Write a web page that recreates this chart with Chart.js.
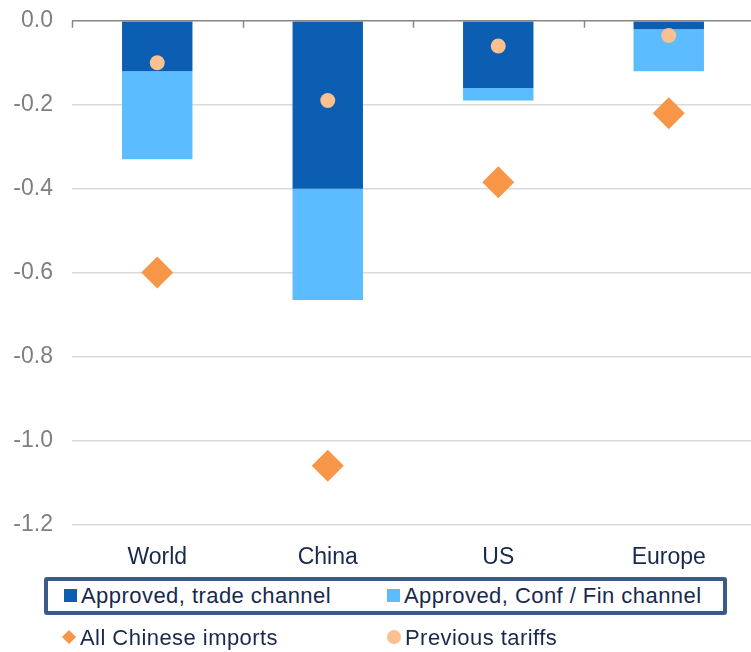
<!DOCTYPE html>
<html>
<head>
<meta charset="utf-8">
<script src="https://cdn.jsdelivr.net/npm/chart.js@4"></script>
<style>
  body { margin: 0; overflow: hidden; background: #fff; font-family: "Liberation Sans", Arial, sans-serif; }
  #wrap { position: absolute; left: 0; top: -12px; width: 770px; height: 602px; }
  .legend { position: absolute; color: #17294d; font-size: 22px; letter-spacing: 0.45px; }
  #row1 { left: 44px; top: 577px; width: 675px; height: 30px; border: 4px solid #3a5b89; border-radius: 3px; background: #fff; }
  #row2 { left: 44px; top: 623px; width: 683px; height: 30px; }
  .item { position: absolute; top: 2px; white-space: nowrap; }
  .sw { display: inline-block; vertical-align: middle; margin-right: 4px; }
</style>
</head>
<body>
<div id="wrap"><canvas id="tariffChart"></canvas></div>

<div class="legend" id="row1">
  <span class="item" style="left:16px"><span class="sw" style="width:13px;height:13px;background:#0b5eb1;margin-top:-4px"></span>Approved, trade channel</span>
  <span class="item" style="left:339px"><span class="sw" style="width:13px;height:13px;background:#5bbcff;margin-top:-4px"></span>Approved, Conf / Fin channel</span>
</div>
<div class="legend" id="row2">
  <span class="item" style="left:20px"><span class="sw" style="width:10px;height:10px;background:#f79646;transform:rotate(45deg);margin-top:-4px;margin-right:6px"></span>All Chinese imports</span>
  <span class="item" style="left:343px"><span class="sw" style="width:14px;height:14px;background:#fac090;border-radius:50%;margin-top:-4px"></span>Previous tariffs</span>
</div>

<script>
  // regions
  const regions = ['World', 'China', 'US', 'Europe'];
  // bar parts (stacked)
  const tradeChannel = [-0.12, -0.40, -0.16, -0.02];
  const confFinChannel = [-0.21, -0.265, -0.03, -0.10];
  // markers
  const allChineseImports = [-0.60, -1.06, -0.385, -0.22];
  const previousTariffs = [-0.10, -0.19, -0.06, -0.035];
  // y axis
  const yMin = -1.2;
  const yMax = 0;
  const yStep = 0.2;

  // little tick marks hanging off the zero line at category borders
  const zeroTicks = {
    id: 'zeroTicks',
    afterDatasetsDraw(chart) {
      const x = chart.scales.x;
      const y0 = chart.scales.y.getPixelForValue(0);
      const ctx = chart.ctx;
      const n = regions.length;
      const w = (x.right - x.left) / n;
      ctx.save();
      ctx.strokeStyle = '#868686';
      ctx.lineWidth = 1.5;
      ctx.beginPath();
      ctx.moveTo(x.left, y0);
      ctx.lineTo(x.right, y0);
      for (let i = 0; i <= n; i++) {
        const px = Math.round(x.left + i * w) + 0.5;
        ctx.moveTo(px, y0);
        ctx.lineTo(px, y0 + 7);
      }
      ctx.stroke();
      ctx.restore();
    }
  };

  const ctx1 = document.getElementById('tariffChart');
  const tariffChart = new Chart(ctx1, {
    type: 'bar',
    data: {
      labels: regions,
      datasets: [{
        label: 'Approved, trade channel',
        data: tradeChannel,
        backgroundColor: '#0b5eb1',
        stack: 'bars',
        order: 2,
        barPercentage: 0.413,
        categoryPercentage: 1
      },
      {
        label: 'Approved, Conf / Fin channel',
        data: confFinChannel,
        backgroundColor: '#5bbcff',
        stack: 'bars',
        order: 2,
        barPercentage: 0.413,
        categoryPercentage: 1
      },
      {
        type: 'line',
        label: 'All Chinese imports',
        data: allChineseImports,
        stack: 'diamonds',
        showLine: false,
        pointStyle: 'rectRot',
        pointRadius: 16,
        pointBorderWidth: 0,
        pointBackgroundColor: '#f79646',
        order: 0
      },
      {
        type: 'line',
        label: 'Previous tariffs',
        data: previousTariffs,
        stack: 'circles',
        showLine: false,
        pointStyle: 'circle',
        pointRadius: 7.5,
        pointBorderWidth: 0,
        pointBackgroundColor: '#fac090',
        order: 0
      }]
    },
    options: {
      responsive: true,
      maintainAspectRatio: false,
      animation: false,
      layout: {
        padding: { top: 0, right: 10, left: 0, bottom: 0 }
      },
      plugins: {
        legend: { display: false },
        tooltip: { enabled: false }
      },
      scales: {
        x: {
          stacked: true,
          offset: true,
          grid: { display: false, drawTicks: false },
          border: { display: false },
          ticks: {
            color: '#17294d',
            padding: 19,
            font: { family: 'Liberation Sans', size: 23 }
          }
        },
        y: {
          stacked: true,
          min: yMin,
          max: yMax,
          afterFit: (scale) => { scale.width = 72; },
          grid: {
            drawTicks: false,
            lineWidth: 1.5,
            color: (c) => c.tick && c.tick.value === 0 ? 'rgba(0,0,0,0)' : '#d9d9d9'
          },
          border: { display: false },
          ticks: {
            stepSize: yStep,
            padding: 19,
            color: '#7f7f7f',
            font: { family: 'Liberation Sans', size: 23 },
            callback: (v) => Number(v).toFixed(1)
          }
        }
      }
    },
    plugins: [zeroTicks]
  });
</script>
</body>
</html>
